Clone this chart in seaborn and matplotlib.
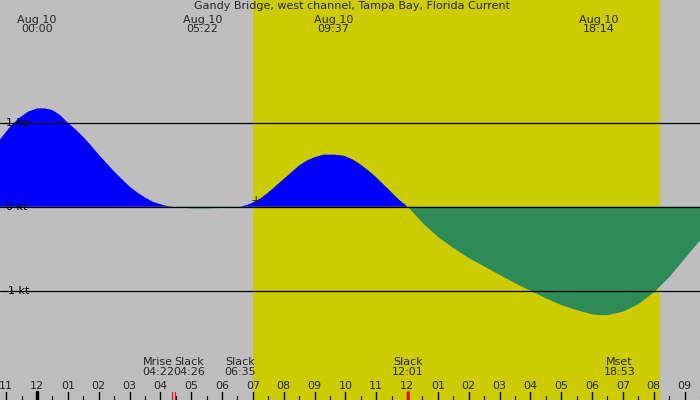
import matplotlib
matplotlib.use("Agg")
import matplotlib.pyplot as plt
import seaborn as sns
import numpy as np

sns.set_theme(style="white")
plt.rcParams['font.family'] = ['DejaVu Sans']

hours = [-1.2,-0.9,-0.6,-0.3,0,0.25,0.5,0.75,1,1.25,1.5,1.75,2,2.25,2.5,2.75,3,3.25,3.5,3.75,4,4.2,4.43,4.7,5,5.5,6,6.3,6.58,6.8,7,7.25,7.5,7.75,8,8.25,8.5,8.75,9,9.3,9.62,9.9,10,10.25,10.5,10.75,11,11.25,11.5,11.75,12.02,12.5,13,13.5,14,14.5,15,15.5,16,16.5,17,17.5,18,18.23,18.5,19,19.5,20,20.5,21,21.5]
knots = [0.80,0.94,1.05,1.13,1.17,1.17,1.15,1.09,1.0,0.92,0.83,0.73,0.62,0.52,0.42,0.33,0.24,0.17,0.11,0.06,0.03,0.01,0.0,-0.01,-0.02,-0.02,-0.015,-0.008,0.0,0.02,0.05,0.1,0.17,0.25,0.33,0.41,0.49,0.55,0.59,0.62,0.62,0.61,0.6,0.56,0.5,0.43,0.35,0.26,0.17,0.08,0.0,-0.19,-0.36,-0.49,-0.61,-0.71,-0.81,-0.91,-1.0,-1.09,-1.17,-1.23,-1.28,-1.29,-1.29,-1.25,-1.16,-1.02,-0.84,-0.62,-0.40]
tick_labels = ["11","12","01","02","03","04","05","06","07","08","09","10","11","12","01","02","03","04","05","06","07","08","09"]
tick_hours = list(range(-1, 22))
sunrise, sunset = 7.0, 20.2
header = [(0.0,"Aug 10\n00:00"),(5.37,"Aug 10\n05:22"),(9.62,"Aug 10\n09:37"),(18.23,"Aug 10\n18:14")]
events = [(4.37,"Mrise\n04:22"),(4.43,"Slack\n04:26"),(6.58,"Slack\n06:35"),(12.02,"Slack\n12:01"),(18.88,"Mset\n18:53")]

fig = plt.figure(figsize=(7,4), dpi=100)
ax = fig.add_axes([0,0,1,1])
ax.set_facecolor("#BEBEBE")
ax.set_xlim(-1.2, 21.5)
ax.set_ylim(-2.30, 2.46)
ax.axvspan(sunrise, sunset, color="#CCCC00", lw=0)

h = np.array(hours); k = np.array(knots)
ax.fill_between(h, 0, k, where=k>=0, color="#0000FF", interpolate=True, lw=0)
ax.fill_between(h, 0, k, where=k<=0, color="#2E8B57", interpolate=True, lw=0)
for v, lab in [(1,"1 kt"),(0,"0 kt"),(-1,"-1 kt")]:
    ax.axhline(v, color="black", lw=0.9)
    ax.text(-0.65, v, lab, fontsize=8, va="center", ha="center", color="black")

for hh, lab in header:
    ax.text(hh, 2.17, lab, fontsize=8, ha="center", va="center", linespacing=0.95)
ax.text(10.2, 2.39, "Gandy Bridge, west channel, Tampa Bay, Florida Current", fontsize=8, ha="center", va="center")
names = {4.37:-0.45, 4.43:0.5}
for hh, lab in events:
    off = names.get(hh, 0)
    ax.text(hh+off, -1.905, lab, fontsize=8, ha="center", va="center", linespacing=0.95)
for th, lab in zip(tick_hours, tick_labels):
    ax.text(th, -2.13, lab, fontsize=8, ha="center", va="center")
    ax.plot([th, th], [-2.30, -2.21], color="black", lw=1)
    ax.plot([th+0.5]*2, [-2.30, -2.25], color="black", lw=0.8)
ax.plot([0,0], [-2.30,-2.20], color="black", lw=2.5)
ax.plot([4.37,4.37], [-2.30,-2.20], color="red", lw=0.8)
ax.plot([4.47,4.47], [-2.30,-2.20], color="red", lw=0.8)
ax.plot([12.02,12.02], [-2.30,-2.20], color="red", lw=2)
ax.text(7.1, 0.08, "+", fontsize=9, ha="center", va="center")
ax.set_xticks([]); ax.set_yticks([])
for s in ax.spines.values(): s.set_visible(False)
fig.savefig("out.png", dpi=100)
